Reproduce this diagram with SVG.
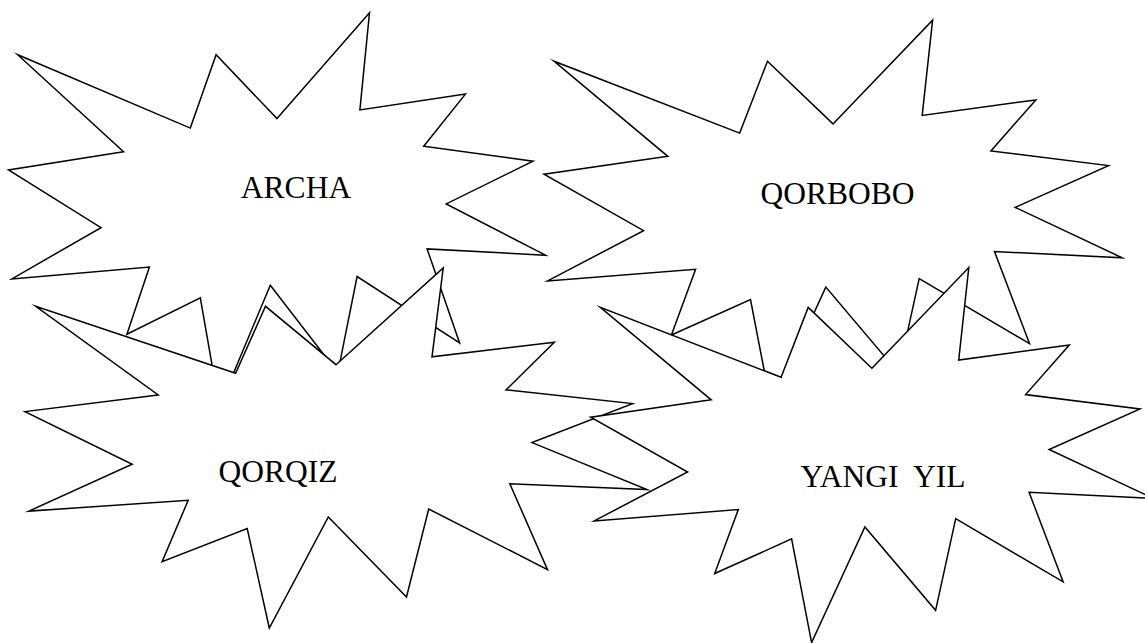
<svg xmlns="http://www.w3.org/2000/svg" width="1145" height="643" viewBox="0 0 1145 643">
<style>
.seal{fill:#ffffff;stroke:#000000;stroke-width:1.5;stroke-linejoin:miter;stroke-miterlimit:10}
.lbl{font-family:"Liberation Serif","Times New Roman",serif;font-size:31.5px;fill:#000000;text-anchor:middle}
</style>
<rect x="0" y="0" width="1145" height="643" fill="#ffffff"/>
<g id="archa">
<polygon class="seal" points="277.0,118.6 369.5,12.8 359.9,109.9 465.4,94.1 423.7,146.2 533.0,161.2 446.2,203.9 545.5,255.2 427.1,248.9 459.6,342.9 357.1,276.5 337.8,372.8 270.3,285.2 219.4,406.8 200.3,297.9 126.9,334.2 149.4,267.0 11.9,278.9 101.0,227.6 8.5,169.9 123.5,151.7 17.7,54.7 190.3,128.1 216.1,54.7"/>
<text class="lbl" x="296" y="197.7">ARCHA</text>
</g>
<g id="qorbobo">
<polygon class="seal" points="833.0,123.9 932.6,20.2 922.2,115.4 1035.8,99.9 990.9,150.9 1108.5,165.6 1015.2,207.4 1122.0,257.7 994.5,251.5 1029.5,343.6 919.2,278.6 898.5,372.9 825.8,287.1 771.1,406.2 750.5,299.5 671.4,335.0 695.6,269.3 547.6,280.9 643.6,230.6 544.0,174.2 667.8,156.3 553.9,61.2 739.7,133.1 767.5,61.2"/>
<text class="lbl" x="837.5" y="204">QORBOBO</text>
</g>
<g id="qorqiz">
<polygon class="seal" points="336.0,364.7 443.2,268.0 432.0,356.8 554.3,342.3 506.0,389.9 632.5,403.6 532.0,442.6 647.0,489.5 509.8,483.7 547.5,569.6 428.7,509.0 406.5,597.0 328.3,516.9 269.3,628.0 247.2,528.5 162.1,561.6 188.2,500.3 28.9,511.1 132.2,464.3 25.0,411.6 158.2,395.0 35.7,306.3 235.6,373.3 265.5,306.3"/>
<text class="lbl" x="278" y="481.7">QORQIZ</text>
</g>
<g id="yangi-yil">
<polygon class="seal" points="871.9,368.3 968.8,267.6 958.7,360.1 1069.3,345.0 1025.6,394.6 1140.0,408.9 1049.1,449.5 1153.1,498.3 1029.1,492.3 1063.1,581.8 955.7,518.6 935.6,610.3 864.9,526.9 811.6,642.6 791.6,538.9 714.7,573.5 738.3,509.6 594.2,520.9 687.6,472.0 590.7,417.2 711.2,399.8 600.3,307.4 781.1,377.3 808.2,307.4"/>
<text class="lbl" x="883" y="486.7" xml:space="preserve">YANGI  YIL</text>
</g>
<g id="connectors"/>
</svg>
